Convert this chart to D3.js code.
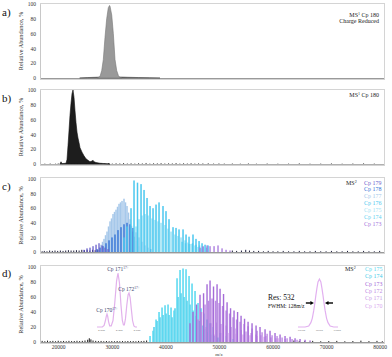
<!DOCTYPE html>
<html>
<head>
<meta charset="utf-8">
<script src="https://d3js.org/d3.v7.min.js"></script>
<style>
body { margin: 0; background: #fff; }
svg text { font-family: "Liberation Serif", "DejaVu Serif", serif; }
</style>
</head>
<body>
<div id="chart"></div>
<script>
// ---- data (m/z, relative abundance %) ----
var yTicks = [0, 20, 40, 60, 80, 100];
var xTicks = [20000, 30000, 40000, 50000, 60000, 70000, 80000];

// a) MS1 Cp 180 charge reduced
var aPeak = [[27300,0],[27800,2],[28120,10],[28420,25],[28735,55],[29050,80],[29350,95],[29580,98],[29670,97],
  [29990,85],[30290,60],[30600,25],[30920,10],[31250,3],[31540,0.5],[31900,0]];
var aBase = [[24000,0],[25500,0.6],[27000,1],[28500,1.5],[31000,1.5],[33000,1],[35000,0.6],[37000,0.3],[39000,0]];

// b) MS1 Cp 180
var bPeak = [[20330,0],[20520,3],[20710,0.5],[21455,1],[21640,6],[21830,25],[22015,45],[22200,66],[22390,82],[22575,95],
  [22760,100],[22950,90],[23135,72],[23320,56],[23510,43],[23695,35],[23880,29],[24070,22],[24440,16],[24815,11],
  [25190,7],[25560,5],[25935,3],[26310,4],[26500,5],[26680,3],[27055,2],[27800,1],[28735,0.5],[29670,0]];
var bNoise = [[17500,0.5],[18500,0.7],[19500,0.5],[20000,0.8],[28000,1],[28700,0.8],[29400,1.2],[30100,0.6],[30800,1],[31500,0.8],
  [32200,1.3],[32900,0.7],[33600,1],[34300,0.6],[35000,1.1],[35700,0.8],[36400,1.4],[37100,0.6],[37800,1],[38500,0.9],
  [39200,1.2],[39900,0.7],[40600,1],[41300,0.8],[42000,1.3],[42700,0.6],[43400,1],[44100,0.7],[44800,1.1],[45500,0.6],
  [46200,0.9],[47000,0.8],[48000,1],[49000,0.6],[50000,0.8],[51000,0.6],[52500,0.7],[54000,0.5],[55500,0.8],[57000,0.5],
  [59000,0.7],[61000,0.5],[63000,0.6],[65000,0.9],[67000,0.5],[69000,0.6],[71000,0.8],[73000,0.5],[75000,0.7],[77000,0.9],[79000,0.6]];

// c) MS2 of Cp 180
var cNoise = [[17000,1],[17400,1.5],[17900,1],[18400,2],[18900,1.5],[19400,2],[19900,1.5],[20400,2],[20900,1.5],[21400,2],
  [21900,2.5],[22400,2],[22900,2],[23400,2.5],[23900,2],[24400,3],[24900,2.5],[25400,3],[25900,2],[26400,3],[26900,2.5],[27400,3],
  [52500,2],[53300,1.5],[54200,2],[55000,3],[55700,2],[56500,1.5],[57400,1.5],[58300,1],[59200,1.5],[60100,1],[61000,1],
  [62000,1.5],[63000,1],[64000,1],[65000,1.5],[66000,1],[67000,1],[68000,1.5],[69000,1],[70000,1],[71000,1.5],[72000,1],
  [73000,1],[74000,1.5],[75000,1],[76000,1],[77000,1.5],[78000,1],[79000,1],[80000,1.5]];
var c179 = [[24810,3],[25375,5],[25935,6],[26500,8],[27060,10],[27615,12],[28175,9],[28735,6],[29300,4]];
var c178 = [[27240,4],[27800,6],[28360,8],[28920,12],[29485,16],[30040,20],[30600,24],[31160,30],[31720,34],[32280,38],
  [32840,40],[33400,38],[33960,33],[34520,27],[35080,20],[35640,14],[36200,9],[36760,6],[37320,4]];
var c177 = [[27700,6],[27990,10],[28270,14],[28550,18],[28830,23],[29110,28],[29390,35],[29670,42],[29950,46],[30230,52],
  [30510,55],[30790,58],[31070,62],[31350,66],[31630,68],[31910,70],[32280,73],[32560,68],[32840,63],[33120,54],
  [33400,45],[33680,36],[33960,28],[34240,21],[34520,15],[34800,11],[35080,8]];
var c176 = [[32280,20],[32840,35],[33590,60],[34150,98],[34800,95],[35460,93],[36020,85],[36580,74],[37140,63],[37700,60],
  [38260,65],[38820,68],[39560,63],[40120,56],[40680,45],[41430,34],[41990,33],[42550,31],[43300,31],[43860,24],
  [44420,21],[45160,24],[45720,18],[46290,15],[46850,12],[47410,10],[47970,9]];
var c175 = [[34520,35],[35080,45],[35640,50],[36200,52],[36760,50],[37510,46],[38070,44],[38630,42],[39190,40],[39940,37],
  [40500,32],[41060,28],[41800,24],[42360,22],[42920,20],[43670,16],[44230,13],[44790,11],[45540,9],[46100,7],[46660,5]];
var c174 = [[43110,14],[43760,12],[44420,11],[45070,12],[45720,10],[46380,9],[47030,7],[47690,6]];
var c173 = [[46470,6],[47030,8],[47780,9],[48340,8],[49090,8],[49830,9],[50580,5],[51330,3],[52070,2]];
var cLabels = ["Cp 179", "Cp 178", "Cp 177", "Cp 176", "Cp 175", "Cp 174", "Cp 173"];

// d) MS2 of Cp 175
var dNoise = [[17000,1.5],[17500,1],[18000,1.8],[18500,1.2],[19000,1.5],[19500,1],[20000,1.6],[20500,1.2],[21000,1.4],[21500,1],
  [22000,1.5],[22500,1.2],[23000,1.3],[23500,1.6],[24000,1.2],[24500,1.5],[25000,2],[25500,3],[25800,5],[26100,3.5],
  [26500,2],[27000,1.5],[27500,1.2],[28000,1.4],[28500,1],[29000,1.3],[29500,1],[30000,1.2],[30500,1],[31000,1.3],
  [31500,1],[32000,1.2],[32500,1],[33000,1.3],[33500,1.1],[34000,1.2],[34500,1],[35000,1.4],[35500,1.2],[36000,1.5],[36500,2],
  [64000,2],[65000,1.5],[66000,1.2],[67500,1.5],[69000,1],[70500,1.2],[72000,1.5],[73500,1],[75000,1.3],[76500,1.8],
  [78000,1.2],[79500,1.5],[80500,1]];
var d175 = [[37140,8],[37700,15],[38260,30],[38820,40],[39380,46],[39940,49],[40500,50],[41060,46],[41620,42],[42180,85],
  [42740,96],[43300,98],[43860,97],[44420,88],[44980,78],[45540,68],[46100,52],[46660,45],[47220,38],[47780,30],
  [48340,25],[48900,20],[49460,16],[50210,12],[50770,10],[51330,8],[52070,6],[52630,4],[53380,3]];
var d174 = [[37880,20],[38440,28],[39000,33],[39560,36],[40120,38],[40680,36],[41240,33],[41800,45],[42360,60],[42920,65],
  [43480,60],[44040,55],[44600,50],[45160,42],[45720,35],[46280,28],[46840,22],[47410,17],[47970,13],[48530,10],[49090,8],[49830,6]];
var d173 = [[44600,25],[45160,40],[45820,50],[46470,63],[47130,65],[47780,77],[48340,82],[48990,74],[49650,77],[50210,71],
  [50860,64],[51520,53],[52170,45],[52820,42],[53480,40],[54130,35],[54780,31],[55440,27],[56180,25],[56930,22],
  [57670,20],[58610,17],[59540,15],[60470,12],[61410,10],[62340,8],[63280,7],[64210,5],[65140,4],[66080,3],[67010,2]];
var d172 = [[46100,30],[46750,40],[47410,50],[48060,55],[48710,58],[49370,55],[50020,52],[50670,48],[51330,42],[51980,38],
  [52630,33],[53290,30],[53940,27],[54690,24],[55440,21],[56180,18],[57120,15],[58050,13],[58990,11],[59920,9],
  [60850,8],[61790,6],[62720,5],[63650,4],[64580,3]];
var d171 = [[47590,20],[48530,25],[49460,26],[50390,24],[51330,22],[52260,20],[53190,18],[54130,16],[55060,14],[56000,12],
  [56930,10],[57860,9],[58800,8],[59730,6],[60660,5]];
var d170 = [[49270,10],[50580,12],[51890,12],[53190,11],[54500,10],[55810,9],[57120,8],[58430,7],[59730,6],[61040,5],[62340,4]];
var dLabels = ["Cp 175", "Cp 174", "Cp 173", "Cp 172", "Cp 171", "Cp 170"];

// d) insets
var inset1 = [[42900,0],[43020,0],[43060,3],[43090,12],[43110,20],[43125,24],[43140,20],[43160,10],[43185,2],[43220,2],
  [43260,12],[43300,45],[43340,85],[43372,100],[43405,82],[43440,40],[43470,12],[43495,4],[43515,4],[43540,15],
  [43570,40],[43600,60],[43620,63],[43645,55],[43670,35],[43700,12],[43730,2],[43760,0],[43800,0]];
var inset1Ticks = [43000, 43400, 43800];
var inset1Labels = [["Cp 170", "17+", 43125, 24], ["Cp 171", "17+", 43372, 100], ["Cp 172", "17+", 43620, 63]];
var inset2 = [[68650,0],[68750,0],[68800,2],[68830,9],[68850,18],[68870,34],[68886,50],[68900,66],[68915,81],[68930,94],
  [68950,100],[68970,94],[68985,81],[69000,66],[69014,50],[69030,34],[69050,18],[69070,9],[69100,2],[69150,0],[69210,0]];
var inset2Ticks = [68700, 68950, 69200];
var fwhmEdges = [68886, 69014];

// ---- layout ----
var W = 392, H = 357;
var xScale = d3.scaleLinear().domain([16600, 81000]).range([40, 385]);
var panels = [
  {letter: "a)", top: 3, y100: 4, y0: 78, ly: 16},
  {letter: "b)", top: 89, y100: 90, y0: 164, ly: 102},
  {letter: "c)", top: 177, y100: 179, y0: 252, ly: 190},
  {letter: "d)", top: 265, y100: 267, y0: 342, ly: 277}
];

var svg = d3.select("#chart").append("svg")
  .attr("width", W).attr("height", H);

panels.forEach(function(p){
  p.y = d3.scaleLinear().domain([0, 100]).range([p.y0, p.y100]);
  p.g = svg.append("g");
  p.g.append("rect")
    .attr("x", 40.5).attr("y", p.top + 0.5)
    .attr("width", 344).attr("height", p.y0 - p.top + 1)
    .attr("fill", "none").attr("stroke", "#d4d4d4").attr("stroke-width", 1);

  var yAxis = d3.axisLeft(p.y).tickValues(yTicks).tickSize(0).tickPadding(4);
  var ya = p.g.append("g").attr("transform", "translate(40,0)").call(yAxis);
  ya.select(".domain").attr("stroke", "#c8c8c8");
  ya.selectAll("text").attr("font-size", 5.5).attr("fill", "#333")
    .style("font-family", "Liberation Serif, serif");

  p.g.append("text")
    .attr("transform", "translate(23," + ((p.y0 + p.y100) / 2) + ") rotate(-90)")
    .attr("text-anchor", "middle").attr("font-size", 6.2).attr("fill", "#333")
    .text("Relative Abundance, %");

  p.g.append("text").attr("x", 2).attr("y", p.ly)
    .attr("font-size", 11).attr("fill", "#111").text(p.letter);
});

function drawArea(p, data, fill, stroke){
  var area = d3.area()
    .x(function(d){ return xScale(d[0]); })
    .y0(p.y0)
    .y1(function(d){ return p.y(d[1]); });
  p.g.append("path").datum(data)
    .attr("d", area)
    .attr("fill", fill)
    .attr("stroke", stroke).attr("stroke-width", 0.6);
}

function drawBars(p, data, color, w){
  p.g.append("g").selectAll("rect").data(data).enter().append("rect")
    .attr("x", function(d){ return xScale(d[0]) - w / 2; })
    .attr("y", function(d){ return p.y(d[1]); })
    .attr("width", w)
    .attr("height", function(d){ return p.y0 - p.y(d[1]); })
    .attr("fill", color);
}

function baseline(p, color){
  p.g.append("line")
    .attr("x1", 41).attr("x2", 384)
    .attr("y1", p.y0 + 0.5).attr("y2", p.y0 + 0.5)
    .attr("stroke", color).attr("stroke-width", 1);
}

function legendText(x, y, str, color, anchor){
  return svg.append("text").attr("x", x).attr("y", y)
    .attr("font-size", 6).attr("fill", color)
    .attr("text-anchor", anchor || "start").text(str);
}

function msLabel(x, y, sup, rest, anchor){
  var t = svg.append("text").attr("x", x).attr("y", y)
    .attr("font-size", 6).attr("fill", "#222").attr("text-anchor", anchor || "start");
  t.append("tspan").text("MS");
  t.append("tspan").attr("font-size", 4).attr("dy", -2).text(sup);
  if (rest) t.append("tspan").attr("dy", 2).text(rest);
  return t;
}

// a)
var pa = panels[0];
baseline(pa, "#9a9a9a");
drawArea(pa, aBase, "#555", "#555");
drawArea(pa, aPeak, "#999", "#777");
msLabel(379, 16.5, "1", " Cp 180", "end");
legendText(379, 22.5, "Charge Reduced", "#222", "end");

// b)
var pb = panels[1];
baseline(pb, "#b0b0b0");
drawBars(pb, bNoise, "#444", 1);
drawArea(pb, bPeak, "#1d1d1d", "#111");
msLabel(379, 96.5, "1", " Cp 180", "end");

// c)
var pc = panels[2];
var cColors = ["#6a62cc", "#3574d6", "#a6c8ea", "#4cc8ef", "#a2e3f5", "#62d2f1", "#a676dc"];
baseline(pc, "#999");
drawBars(pc, cNoise, "#1c1c3c", 1);
drawBars(pc, c177, cColors[2], 1.5);
drawBars(pc, c178, cColors[1], 1.4);
drawBars(pc, c175, cColors[4], 1.6);
drawBars(pc, c174, cColors[5], 1.4);
drawBars(pc, c176, cColors[3], 1.5);
drawBars(pc, c179, cColors[0], 1.3);
drawBars(pc, c173, cColors[6], 1.3);
msLabel(346, 184.5, "2");
cLabels.forEach(function(s, i){ legendText(364, 184.5 + i * 6.9, s, cColors[i]); });

// d)
var pd = panels[3];
var dColors = ["#55d8f0", "#45cbe8", "#a56cd8", "#bd8ae4", "#c99ce8", "#d8a8ee"];
baseline(pd, "#999");
drawBars(pd, dNoise, "#1a1a1a", 1);
drawBars(pd, d174, dColors[1], 1.4);
drawBars(pd, d175, dColors[0], 1.5);
drawBars(pd, d170, dColors[5], 1.4);
drawBars(pd, d171, dColors[4], 1.4);
drawBars(pd, d172, dColors[3], 1.4);
drawBars(pd, d173, dColors[2], 1.4);
msLabel(345, 271, "2");
dLabels.forEach(function(s, i){ legendText(365, 271 + i * 7.3, s, dColors[i]); });

var xAxis = d3.axisBottom(xScale).tickValues(xTicks).tickSize(0).tickPadding(2).tickFormat(d3.format("d"));
var xa = svg.append("g").attr("transform", "translate(0," + (pd.y0 + 1) + ")").call(xAxis);
xa.select(".domain").remove();
xa.selectAll("text").attr("font-size", 5.5).attr("fill", "#333")
  .style("font-family", "Liberation Serif, serif");
svg.append("text").attr("x", xScale(50000)).attr("y", 355.5)
  .attr("text-anchor", "middle").attr("font-size", 5).attr("fill", "#333").text("m/z");

// inset 1: three charge-state peaks
var i1x = d3.scaleLinear().domain([42900, 43800]).range([97, 137]);
var i1y = d3.scaleLinear().domain([0, 100]).range([327, 273]);
var line1 = d3.line().x(function(d){ return i1x(d[0]); }).y(function(d){ return i1y(d[1]); });
svg.append("path").datum(inset1).attr("d", line1)
  .attr("fill", "none").attr("stroke", "#e2b2ec").attr("stroke-width", 1.2);
inset1Ticks.forEach(function(t){
  svg.append("text").attr("x", i1x(t)).attr("y", 331).attr("text-anchor", "middle")
    .attr("font-size", 2.8).attr("fill", "#777").text(t);
});
inset1Labels.forEach(function(l){
  var t = svg.append("text").attr("x", i1x(l[2])).attr("y", i1y(l[3]) - 2)
    .attr("text-anchor", "middle").attr("font-size", 5.5).attr("fill", "#3b3f6e");
  t.append("tspan").text(l[0]);
  t.append("tspan").attr("font-size", 3.5).attr("dy", -2).text(l[1]);
});

// inset 2: single peak with FWHM
var i2x = d3.scaleLinear().domain([68650, 69210]).range([298, 338]);
var i2y = d3.scaleLinear().domain([0, 100]).range([327, 279]);
var line2 = d3.line().x(function(d){ return i2x(d[0]); }).y(function(d){ return i2y(d[1]); });
svg.append("path").datum(inset2).attr("d", line2)
  .attr("fill", "none").attr("stroke", "#e2b0f0").attr("stroke-width", 1.2);
inset2Ticks.forEach(function(t){
  svg.append("text").attr("x", i2x(t)).attr("y", 331).attr("text-anchor", "middle")
    .attr("font-size", 2.8).attr("fill", "#777").text(t);
});
var ay = i2y(50);
fwhmEdges.forEach(function(e, i){
  var tip = i2x(e) + (i === 0 ? -1 : 1);
  var dir = i === 0 ? 1 : -1;
  svg.append("line").attr("x1", tip - dir * 8).attr("x2", tip - dir * 3)
    .attr("y1", ay).attr("y2", ay).attr("stroke", "#000").attr("stroke-width", 1.4);
  svg.append("path")
    .attr("d", "M" + tip + "," + ay + "L" + (tip - dir * 3.5) + "," + (ay - 2) + "L" + (tip - dir * 3.5) + "," + (ay + 2) + "Z")
    .attr("fill", "#000");
});
svg.append("text").attr("x", 268).attr("y", 300).attr("font-size", 7.5).attr("fill", "#111").text("Res: 532");
svg.append("text").attr("x", 268).attr("y", 307.5).attr("font-size", 5.5).attr("fill", "#111").text("FWHM: 128m/z");
</script>
</body>
</html>
